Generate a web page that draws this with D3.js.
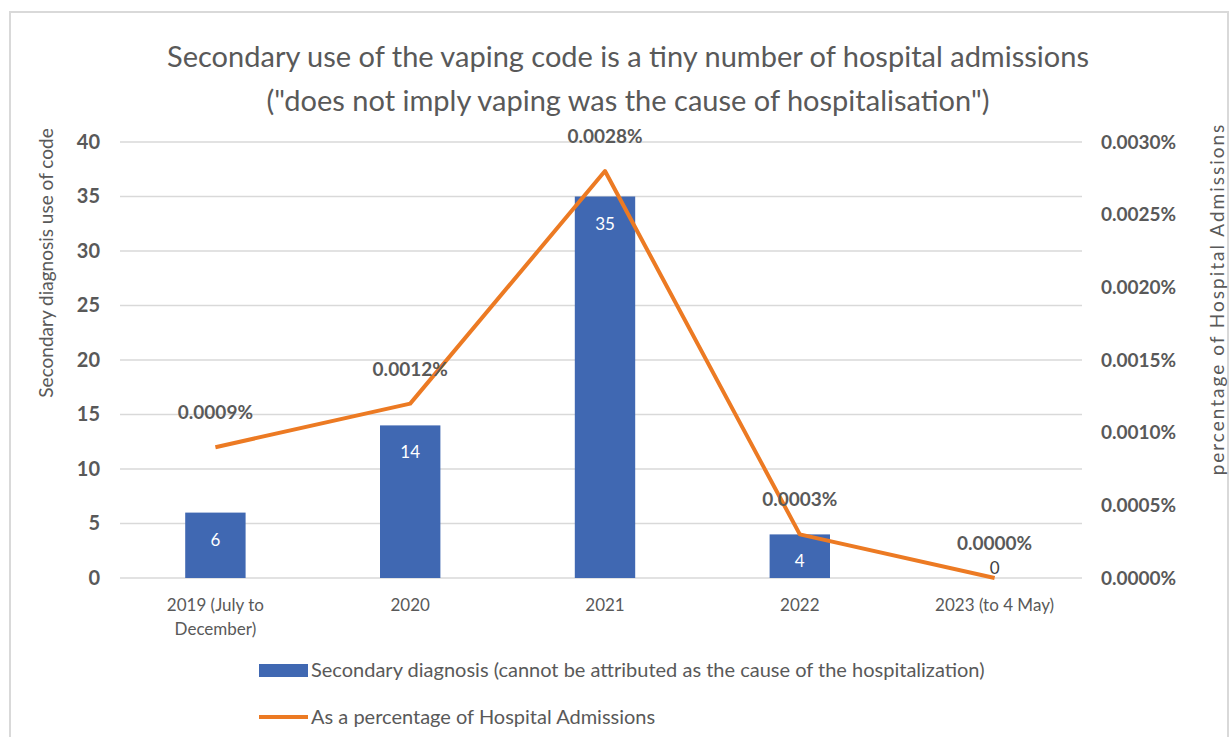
<!DOCTYPE html>
<html>
<head>
<meta charset="utf-8">
<script src="https://cdn.jsdelivr.net/npm/d3@7"></script>
<style>
  body { margin: 0; background: #fff; }
  svg { font-family: Lato, "Open Sans", sans-serif; }
</style>
</head>
<body>
<script>
//chart data
var categories = ["2019 (July to|December)", "2020", "2021", "2022", "2023 (to 4 May)"];
var secondaryCounts = [6, 14, 35, 4, 0];
var admissionPct = [0.0009, 0.0012, 0.0028, 0.0003, 0.0000];
var leftTicks = [0, 5, 10, 15, 20, 25, 30, 35, 40];
var rightTicks = [0, 0.0005, 0.0010, 0.0015, 0.0020, 0.0025, 0.0030];
var titleLines = ["Secondary use of the vaping code is a tiny number of hospital admissions",
                  "(\"does not imply vaping was the cause of hospitalisation\")"];
var legendLabels = ["Secondary diagnosis (cannot be attributed as the cause of the hospitalization)",
                    "As a percentage of Hospital Admissions"];

var width = 1231, height = 737;
var barColor = "#4068b2", lineColor = "#ec7a23", textColor = "#595959", gridColor = "#d9d9d9";

var svg = d3.select("body").append("svg")
    .attr("width", width)
    .attr("height", height);

//outer frame
svg.append("rect")
    .attr("x", 10).attr("y", 12)
    .attr("width", 1218).attr("height", 740)
    .attr("fill", "none")
    .attr("stroke", "#d9d9d9")
    .attr("stroke-width", 2);

//title
svg.selectAll(".title")
    .data(titleLines)
    .enter()
    .append("text")
    .attr("class", "title")
    .attr("x", 628)
    .attr("y", function(d, i){ return 67 + i * 44; })
    .attr("text-anchor", "middle")
    .attr("font-size", 29)
    .attr("fill", textColor)
    .text(function(d){ return d; });

//scales
var x = d3.scaleBand()
    .domain(d3.range(categories.length))
    .range([118, 1092])
    .paddingInner(0.69)
    .paddingOuter(0.345);

var yLeft = d3.scaleLinear().domain([0, 40]).range([578, 142]);
var yRight = d3.scaleLinear().domain([0, 0.0030]).range([578, 142]);

//gridlines
svg.selectAll(".grid")
    .data(leftTicks)
    .enter()
    .append("line")
    .attr("class", "grid")
    .attr("x1", 120).attr("x2", 1082)
    .attr("y1", function(d){ return yLeft(d); })
    .attr("y2", function(d){ return yLeft(d); })
    .attr("stroke", gridColor)
    .attr("stroke-width", 1.5);

//left axis
var leftAxis = svg.append("g")
    .attr("transform", "translate(100,0)")
    .call(d3.axisLeft(yLeft).tickValues(leftTicks).tickSize(0).tickPadding(0));
leftAxis.select(".domain").remove();
leftAxis.selectAll("text")
    .attr("font-family", "Lato, sans-serif")
    .attr("font-size", 20)
    .attr("font-weight", "bold")
    .attr("fill", textColor);

//right axis
var rightAxis = svg.append("g")
    .attr("transform", "translate(1101,0)")
    .call(d3.axisRight(yRight).tickValues(rightTicks).tickSize(0).tickPadding(0)
        .tickFormat(function(d){ return d3.format(".4f")(d) + "%"; }));
rightAxis.select(".domain").remove();
rightAxis.selectAll("text")
    .attr("font-family", "Lato, sans-serif")
    .attr("font-size", 19)
    .attr("font-weight", "bold")
    .attr("fill", textColor);

//axis titles
svg.append("text")
    .attr("transform", "translate(53,263) rotate(-90)")
    .attr("text-anchor", "middle")
    .attr("font-size", 19)
    .attr("fill", textColor)
    .text("Secondary diagnosis use of code");

svg.append("text")
    .attr("transform", "translate(1224,299) rotate(-90)")
    .attr("text-anchor", "middle")
    .attr("font-size", 19)
    .attr("letter-spacing", 2)
    .attr("fill", textColor)
    .text("percentage of Hospital Admissions");

//category labels
var catLabels = svg.selectAll(".cat")
    .data(categories)
    .enter()
    .append("text")
    .attr("class", "cat")
    .attr("text-anchor", "middle")
    .attr("font-size", 17)
    .attr("fill", textColor);
catLabels.each(function(d, i){
    var parts = d.split("|");
    var t = d3.select(this);
    parts.forEach(function(p, j){
        t.append("tspan")
            .attr("x", x(i) + x.bandwidth() / 2)
            .attr("y", 611 + j * 24)
            .text(p);
    });
});

//bars
svg.selectAll(".bar")
    .data(secondaryCounts)
    .enter()
    .append("rect")
    .attr("class", "bar")
    .attr("x", function(d, i){ return x(i); })
    .attr("width", x.bandwidth())
    .attr("y", function(d){ return yLeft(d); })
    .attr("height", function(d){ return yLeft(0) - yLeft(d); })
    .attr("fill", barColor);

//bar labels
svg.selectAll(".barLabel")
    .data(secondaryCounts)
    .enter()
    .append("text")
    .attr("class", "barLabel")
    .attr("x", function(d, i){ return x(i) + x.bandwidth() / 2; })
    .attr("y", function(d){ return d > 0 ? yLeft(d) + 33 : yLeft(d) - 4; })
    .attr("text-anchor", "middle")
    .attr("font-size", 17)
    .attr("fill", function(d){ return d > 0 ? "#ffffff" : "#404040"; })
    .text(function(d){ return d; });

//line
var line = d3.line()
    .x(function(d, i){ return x(i) + x.bandwidth() / 2; })
    .y(function(d){ return yRight(d); });

svg.append("path")
    .datum(admissionPct)
    .attr("d", line)
    .attr("fill", "none")
    .attr("stroke", lineColor)
    .attr("stroke-width", 4)
    .attr("stroke-linejoin", "round");

//line labels
svg.selectAll(".lineLabel")
    .data(admissionPct)
    .enter()
    .append("text")
    .attr("class", "lineLabel")
    .attr("x", function(d, i){ return x(i) + x.bandwidth() / 2; })
    .attr("y", function(d){ return yRight(d) - 28; })
    .attr("text-anchor", "middle")
    .attr("font-size", 19)
    .attr("font-weight", "bold")
    .attr("fill", textColor)
    .text(function(d){ return d3.format(".4f")(d) + "%"; });

//legend
var legend = svg.append("g");
legend.append("rect")
    .attr("x", 259).attr("y", 664)
    .attr("width", 49).attr("height", 13)
    .attr("fill", barColor);
legend.append("line")
    .attr("x1", 259).attr("x2", 308)
    .attr("y1", 717).attr("y2", 717)
    .attr("stroke", lineColor)
    .attr("stroke-width", 4);
legend.selectAll(".legText")
    .data(legendLabels)
    .enter()
    .append("text")
    .attr("class", "legText")
    .attr("x", 311)
    .attr("y", function(d, i){ return 677 + i * 47; })
    .attr("font-size", 20)
    .attr("fill", textColor)
    .text(function(d){ return d; });
</script>
</body>
</html>
